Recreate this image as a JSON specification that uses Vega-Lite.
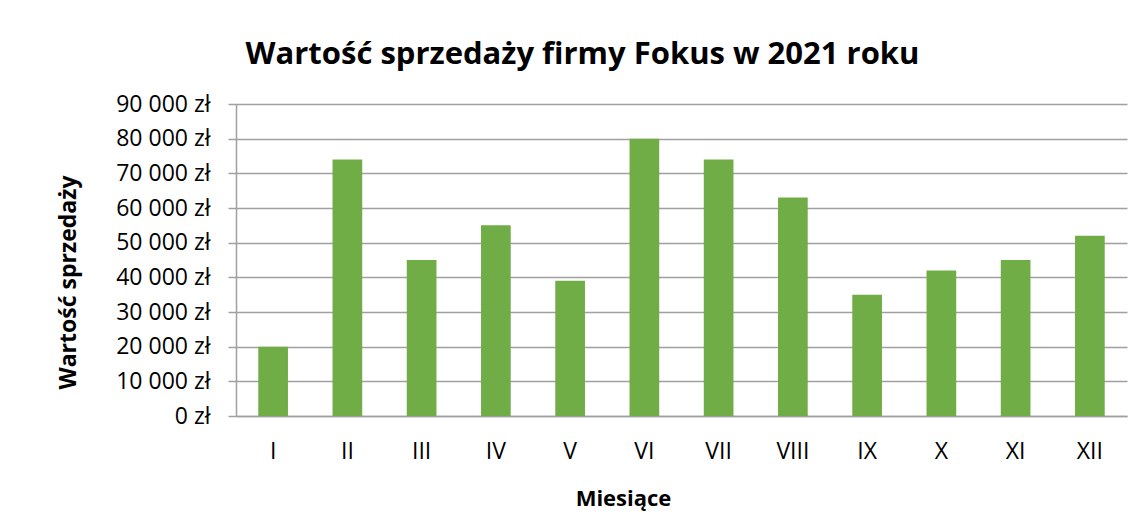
{
  "$schema": "https://vega.github.io/schema/vega-lite/v6.json",
  "autosize": {"type": "none"},
  "padding": {"left": 236, "top": 104, "right": 15, "bottom": 116},
  "width": 891,
  "height": 312,
  "background": "white",
  "title": {
    "text": "Wartość sprzedaży firmy Fokus w 2021 roku",
    "font": "Open Sans",
    "fontSize": 31,
    "fontWeight": "bold",
    "color": "black",
    "anchor": "middle",
    "frame": "group",
    "baseline": "alphabetic",
    "dx": -99,
    "dy": 44,
    "offset": 42
  },
  "data": {
    "values": [
      {"miesiac": "I", "wartosc": 20000},
      {"miesiac": "II", "wartosc": 74000},
      {"miesiac": "III", "wartosc": 45000},
      {"miesiac": "IV", "wartosc": 55000},
      {"miesiac": "V", "wartosc": 39000},
      {"miesiac": "VI", "wartosc": 80000},
      {"miesiac": "VII", "wartosc": 74000},
      {"miesiac": "VIII", "wartosc": 63000},
      {"miesiac": "IX", "wartosc": 35000},
      {"miesiac": "X", "wartosc": 42000},
      {"miesiac": "XI", "wartosc": 45000},
      {"miesiac": "XII", "wartosc": 52000}
    ]
  },
  "mark": {"type": "bar", "color": "#70AD47"},
  "encoding": {
    "x": {
      "field": "miesiac",
      "type": "nominal",
      "sort": null,
      "scale": {"paddingInner": 0.6, "paddingOuter": 0.3},
      "axis": {
        "title": "Miesiące",
        "titleFont": "Open Sans",
        "titleFontSize": 22,
        "titleFontWeight": "bold",
        "titleColor": "black",
        "titleX": 387,
        "titleY": 89,
        "titleBaseline": "alphabetic",
        "titleAlign": "center",
        "labelAngle": 0,
        "labelFont": "Open Sans",
        "labelFontSize": 23,
        "labelColor": "black",
        "labelPadding": 24,
        "ticks": false,
        "tickSize": 0,
        "domain": true,
        "domainColor": "#a0a0a0",
        "domainWidth": 1.5
      }
    },
    "y": {
      "field": "wartosc",
      "type": "quantitative",
      "scale": {"domain": [0, 90000], "nice": false},
      "axis": {
        "title": "Wartość sprzedaży",
        "titleFont": "Open Sans",
        "titleFontSize": 23,
        "titleFontWeight": "bold",
        "titleColor": "black",
        "titleX": -161,
        "titleY": 178,
        "titleBaseline": "alphabetic",
        "titleAlign": "center",
        "values": [0, 10000, 20000, 30000, 40000, 50000, 60000, 70000, 80000, 90000],
        "labelExpr": "replace(format(datum.value, ','), ',', ' ') + ' zł'",
        "labelFont": "Open Sans",
        "labelFontSize": 23,
        "labelColor": "black",
        "labelPadding": 18,
        "tickSize": 8,
        "tickColor": "#a0a0a0",
        "tickWidth": 1.5,
        "domain": true,
        "domainColor": "#a0a0a0",
        "domainWidth": 1.5,
        "grid": true,
        "gridColor": "#a0a0a0",
        "gridWidth": 1.5
      }
    }
  },
  "config": {
    "view": {"stroke": null}
  }
}
